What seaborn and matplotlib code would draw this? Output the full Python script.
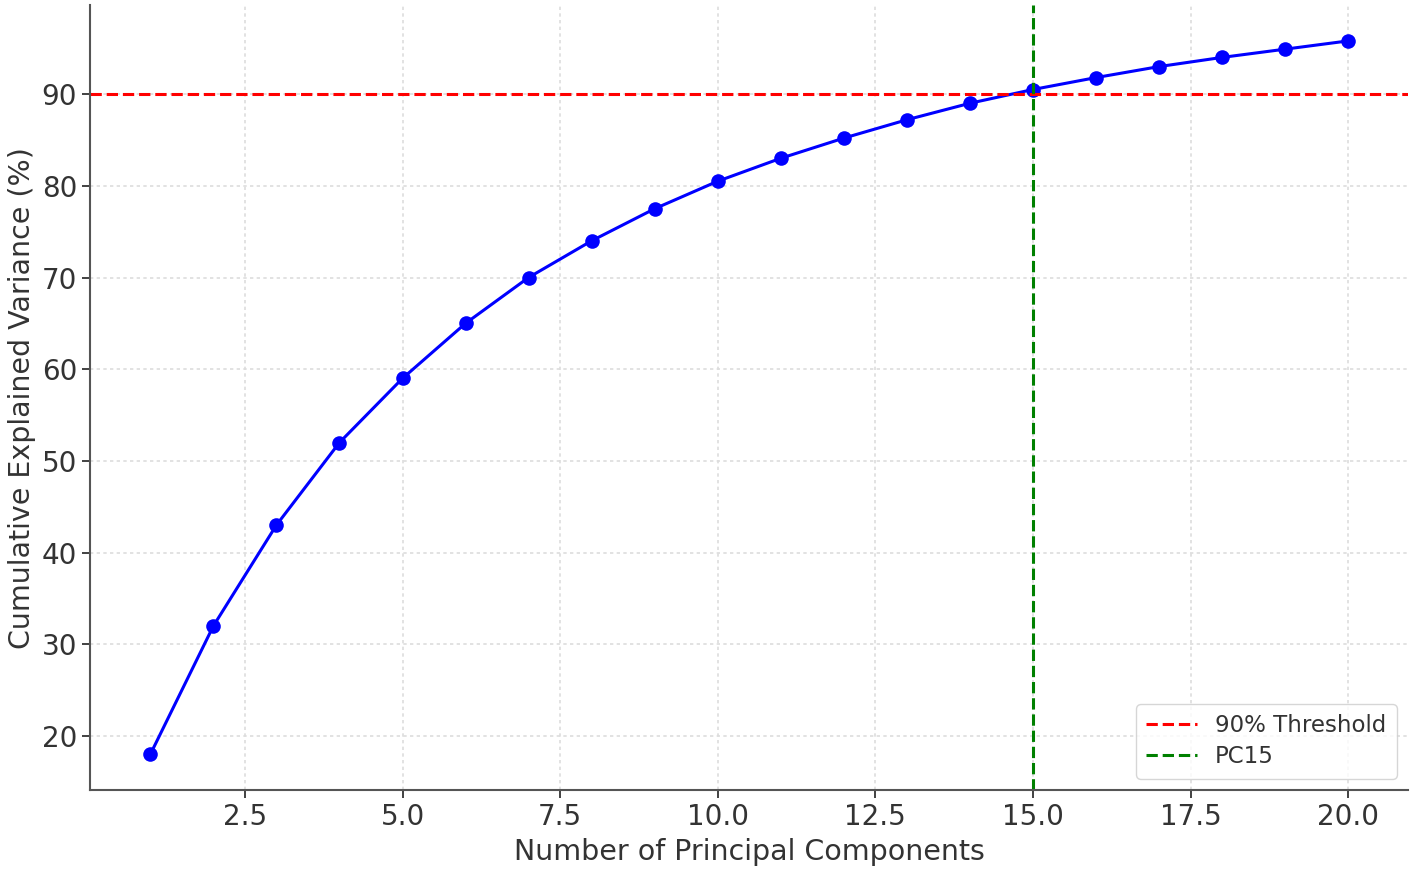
import numpy as np
import pandas as pd
import matplotlib
matplotlib.use("Agg")
import matplotlib.pyplot as plt
import seaborn as sns

# Values
components = list(range(1, 21))
cum_variance = [18.0, 32.0, 43.0, 52.0, 59.0, 65.0, 70.0, 74.0, 77.5, 80.5,
                83.0, 85.2, 87.2, 89.0, 90.5, 91.8, 93.0, 94.0, 94.9, 95.8]
threshold = 90
chosen_pc = 15

df = pd.DataFrame({"pc": components, "cum": cum_variance})

sns.set_style("ticks")
plt.rcParams["font.family"] = ["DejaVu Sans"]
plt.rcParams["text.color"] = "#333333"
plt.rcParams["axes.labelcolor"] = "#333333"
plt.rcParams["xtick.color"] = "#333333"
plt.rcParams["ytick.color"] = "#333333"

fig = plt.figure(figsize=(14.13, 8.72), dpi=100)
ax = fig.add_axes([0.064, 0.094, 0.9325, 0.9])

sns.lineplot(data=df, x="pc", y="cum", ax=ax, color="blue", marker="o",
             markersize=10.5, markeredgewidth=0, linewidth=2.2)
ax.axhline(threshold, color="red", linestyle="--", linewidth=2.2, label="90% Threshold")
ax.axvline(chosen_pc, color="green", linestyle="--", linewidth=2.2, label=f"PC{chosen_pc}")

ax.set_xlabel("Number of Principal Components", fontsize=20.5, labelpad=5)
ax.set_ylabel("Cumulative Explained Variance (%)", fontsize=20.5)
ax.tick_params(labelsize=20, length=6, width=1.3)
ax.grid(True, linestyle=(0, (2, 2)), color="#dddddd", linewidth=1.2)
for side in ["top", "right"]:
    ax.spines[side].set_visible(False)
for side in ["left", "bottom"]:
    ax.spines[side].set_color("#555555")
    ax.spines[side].set_linewidth(1.5)

ax.legend(loc="lower right", fontsize=16.5, handlelength=2.2, borderpad=0.45,
          labelspacing=0.35)

fig.savefig("out.png", dpi=100)
